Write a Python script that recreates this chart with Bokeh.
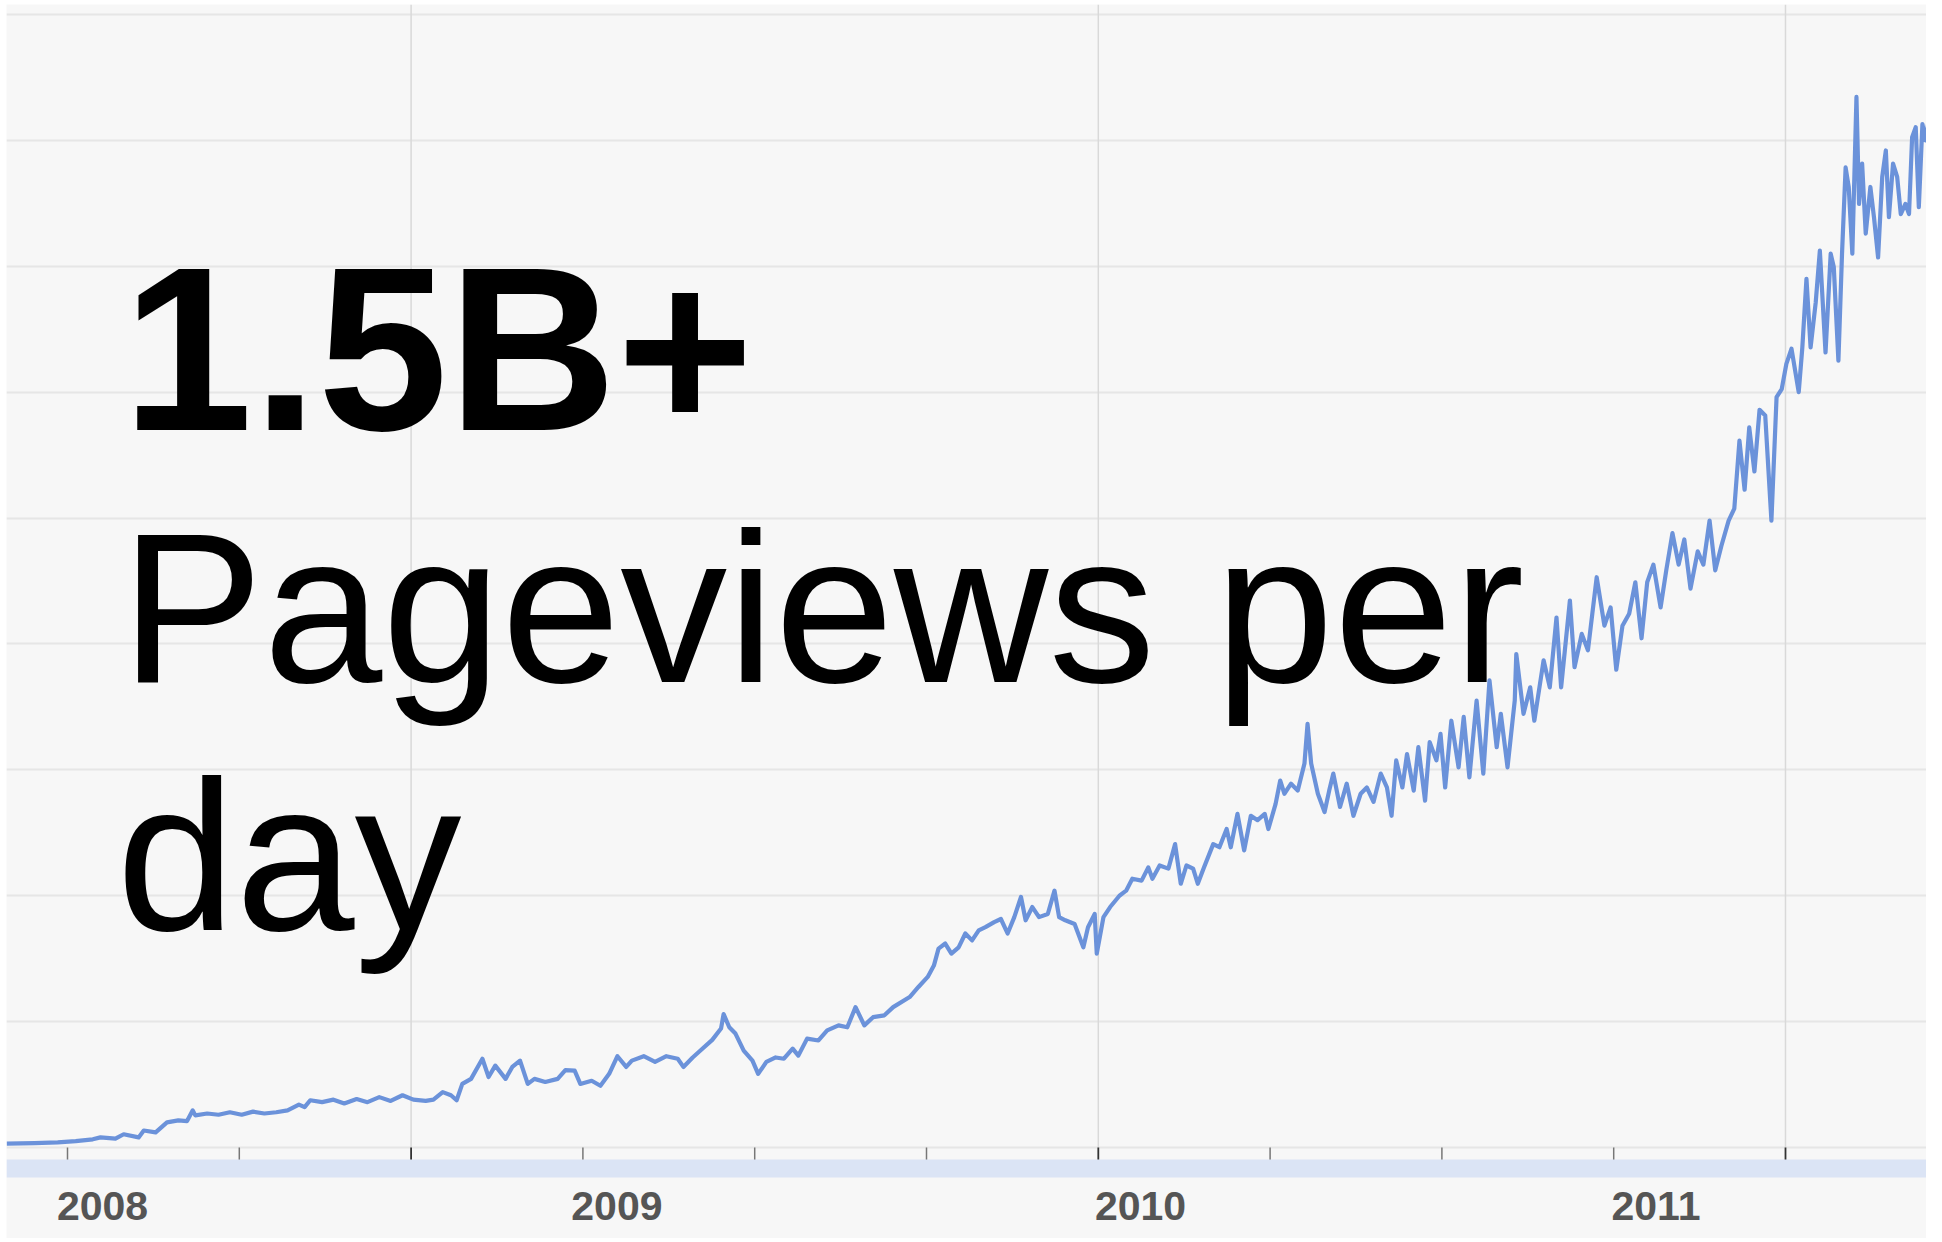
from bokeh.plotting import figure
from bokeh.models import FixedTicker, Grid, Range1d, ColumnDataSource
from bokeh.core.properties import value
from bokeh.embed import file_html
from bokeh.resources import INLINE

# ---- data (decimal year, pageviews in millions per day) ----
dates = [
    2007.882, 2007.936, 2007.981, 2008.016, 2008.049, 2008.064, 2008.093, 2008.109,
    2008.138, 2008.148, 2008.171, 2008.182, 2008.193, 2008.215, 2008.232, 2008.243,
    2008.248, 2008.271, 2008.293, 2008.315, 2008.338, 2008.360, 2008.382, 2008.405,
    2008.427, 2008.449, 2008.460, 2008.471, 2008.494, 2008.516, 2008.537, 2008.561,
    2008.582, 2008.605, 2008.627, 2008.650, 2008.671, 2008.695, 2008.710, 2008.728,
    2008.744, 2008.755, 2008.766, 2008.783, 2008.805, 2008.817, 2008.830, 2008.850,
    2008.863, 2008.878, 2008.893, 2008.906, 2008.927, 2008.951, 2008.966, 2008.984,
    2008.995, 2009.017, 2009.034, 2009.051, 2009.067, 2009.084, 2009.095, 2009.118,
    2009.140, 2009.162, 2009.184, 2009.195, 2009.213, 2009.228, 2009.251, 2009.268,
    2009.273, 2009.284, 2009.296, 2009.312, 2009.329, 2009.340, 2009.356, 2009.374,
    2009.390, 2009.407, 2009.418, 2009.435, 2009.457, 2009.474, 2009.496, 2009.513,
    2009.529, 2009.546, 2009.563, 2009.585, 2009.602, 2009.634, 2009.651, 2009.669,
    2009.681, 2009.690, 2009.703, 2009.715, 2009.729, 2009.742, 2009.755, 2009.768,
    2009.781, 2009.798, 2009.811, 2009.824, 2009.837, 2009.850, 2009.859, 2009.872,
    2009.885, 2009.902, 2009.915, 2009.924, 2009.936, 2009.954, 2009.971, 2009.980,
    2009.993, 2009.997, 2010.010, 2010.023, 2010.041, 2010.054, 2010.066, 2010.084,
    2010.097, 2010.105, 2010.119, 2010.136, 2010.149, 2010.160, 2010.171, 2010.184,
    2010.193, 2010.205, 2010.223, 2010.235, 2010.249, 2010.257, 2010.270, 2010.283,
    2010.296, 2010.309, 2010.323, 2010.330, 2010.344, 2010.353, 2010.361, 2010.374,
    2010.387, 2010.400, 2010.406, 2010.413, 2010.426, 2010.439, 2010.448, 2010.456,
    2010.469, 2010.482, 2010.495, 2010.509, 2010.521, 2010.534, 2010.548, 2010.560,
    2010.569, 2010.578, 2010.590, 2010.599, 2010.612, 2010.621, 2010.634, 2010.643,
    2010.656, 2010.664, 2010.673, 2010.685, 2010.699, 2010.709, 2010.720, 2010.734,
    2010.747, 2010.759, 2010.773, 2010.781, 2010.794, 2010.808, 2010.811, 2010.825,
    2010.838, 2010.846, 2010.864, 2010.876, 2010.889, 2010.898, 2010.915, 2010.924,
    2010.938, 2010.950, 2010.967, 2010.982, 2010.994, 2011.005, 2011.017, 2011.030,
    2011.042, 2011.054, 2011.065, 2011.077, 2011.091, 2011.102, 2011.114, 2011.126,
    2011.137, 2011.149, 2011.163, 2011.174, 2011.186, 2011.197, 2011.209, 2011.223,
    2011.234, 2011.244, 2011.254, 2011.263, 2011.273, 2011.283, 2011.294, 2011.306,
    2011.314, 2011.316, 2011.326, 2011.335, 2011.345, 2011.359, 2011.366, 2011.374,
    2011.382, 2011.392, 2011.400, 2011.411, 2011.421, 2011.427, 2011.436, 2011.443,
    2011.450, 2011.456, 2011.463, 2011.471, 2011.476, 2011.482, 2011.489, 2011.498,
    2011.505, 2011.513, 2011.521, 2011.528, 2011.534, 2011.542, 2011.550, 2011.557,
    2011.566, 2011.573, 2011.579, 2011.586, 2011.592, 2011.599, 2011.605, 2011.610,
]
pageviews_m = [
    6, 7, 8, 10, 13, 16, 14, 21,
    16, 27, 24, 32, 40, 43, 42, 59,
    51, 54, 52, 56, 52, 57, 54, 56,
    59, 68, 64, 75, 72, 76, 70, 77,
    72, 80, 74, 83, 76, 74, 76, 88,
    83, 75, 101, 109, 141, 112, 130, 109,
    128, 138, 101, 109, 104, 109, 123, 122,
    101, 106, 98, 117, 145, 128, 138, 145,
    136, 145, 141, 128, 143, 154, 171, 189,
    212, 191, 181, 154, 138, 117, 136, 143,
    141, 157, 146, 173, 170, 186, 194, 191,
    223, 194, 207, 210, 223, 239, 255, 271,
    289, 316, 324, 308, 318, 340, 329, 345,
    350, 358, 363, 340, 366, 398, 361, 382,
    366, 371, 408, 366, 361, 355, 318, 350,
    371, 308, 366, 382, 400, 408, 427, 424,
    445, 427, 448, 443, 482, 419, 448, 443,
    419, 445, 482, 477, 506, 477, 530, 472,
    527, 520, 530, 506, 546, 583, 562, 578,
    567, 610, 673, 610, 562, 533, 567, 594,
    541, 578, 527, 562, 572, 549, 594, 572,
    527, 615, 572, 625, 567, 636, 551, 644,
    615, 657, 572, 678, 604, 684, 588, 710,
    594, 742, 636, 689, 604, 710, 784, 689,
    731, 678, 774, 731, 842, 731, 869, 763,
    816, 790, 906, 829, 858, 759, 829, 848,
    898, 809, 898, 926, 858, 917, 976, 926,
    966, 888, 947, 926, 996, 917, 956, 996,
    1015, 1123, 1045, 1144, 1074, 1172, 1163, 996,
    1153, 1192, 1205, 1245, 1269, 1200, 1271, 1380,
    1271, 1343, 1425, 1263, 1420, 1399, 1250, 1420,
    1557, 1526, 1420, 1669, 1499, 1563, 1452, 1526,
    1478, 1414, 1542, 1584, 1478, 1563, 1542, 1483,
    1499, 1483, 1605, 1621, 1494, 1626, 1600, 1626,
]

tick_dates = [2008.0 + k / 3.0 for k in range(11)]          # every 4 months
major_tick_dates = [2008.0 + 2 / 3.0, 2010.0, 2011.0 + 1 / 3.0]
minor_tick_dates = [d for d in tick_dates if min(abs(d - m) for m in major_tick_dates) > 0.01]
y_grid_values = [0, 200, 400, 600, 800, 1000, 1200, 1400, 1600, 1800]
year_labels = ["2008", "2009", "2010", "2011"]
year_label_dates = [2008.068, 2009.066, 2010.082, 2011.082]

headline = "1.5B+"
sub_line_1 = "Pageviews per"
sub_line_2 = "day"

# ---- layout: frame 1920 x 1234 px, white strip left (6px) and top (4px) ----
FRAME_W, FRAME_H = 1920, 1234
PAD_L, PAD_T = 6, 4
X0, X1 = 2007.88164, 2011.60691
Y0, Y1 = -144.6, 1815.9
PX_Y = FRAME_H / (Y1 - Y0)          # px per million
PX_X = FRAME_W / (X1 - X0)          # px per year

def y_below(px):                      # value that lies px pixels below the baseline
    return -px / PX_Y

p = figure(
    width=FRAME_W + PAD_L, height=FRAME_H + PAD_T,
    x_range=Range1d(X0, X1), y_range=Range1d(Y0, Y1),
    x_axis_location=None, y_axis_location=None,
    toolbar_location=None, output_backend="svg",
    min_border_left=PAD_L, min_border_right=0,
    min_border_top=PAD_T, min_border_bottom=0,
    background_fill_color="#f7f7f7", border_fill_color="#ffffff",
    outline_line_color=None,
)
p.xgrid.visible = False
p.ygrid.visible = False

p.add_layout(Grid(dimension=1, ticker=FixedTicker(ticks=y_grid_values),
                  grid_line_color="#e6e6e6", grid_line_width=2))

# vertical grid lines (only above the baseline)
p.segment(x0=major_tick_dates, y0=[0] * len(major_tick_dates),
          x1=major_tick_dates, y1=[Y1] * len(major_tick_dates),
          line_color="#d9d9d9", line_width=1.5)

# tick marks below the baseline
p.segment(x0=minor_tick_dates, y0=[0] * len(minor_tick_dates),
          x1=minor_tick_dates, y1=[y_below(13)] * len(minor_tick_dates),
          line_color="#777777", line_width=1.5)
p.segment(x0=major_tick_dates, y0=[0] * len(major_tick_dates),
          x1=major_tick_dates, y1=[y_below(13)] * len(major_tick_dates),
          line_color="#333333", line_width=1.8)

# light-blue range band
p.quad(left=[X0], right=[X1], bottom=[y_below(30)], top=[y_below(12)],
       fill_color="#dbe4f5", line_color=None)

# Bokeh places an "alphabetic" baseline ~0.36 em low; compensate
BASE_FIX = 0.36

# year labels
lab_size = 41
p.text(x=year_label_dates, y=[y_below(73 - BASE_FIX * lab_size)] * len(year_labels),
       text=year_labels, text_align="center", text_baseline="alphabetic",
       text_font=value("Liberation Sans"), text_font_style="bold",
       text_font_size=f"{lab_size}px", text_color="#555555")

# the series
src = ColumnDataSource(dict(x=dates, y=pageviews_m))
p.line("x", "y", source=src, line_color="#6b92da", line_width=4.2, line_join="round")

# overlay text (anchor x in years, baseline height above chart baseline in px)
def overlay(txt, x_px_from_2008, base_px_above, size, style):
    p.text(x=[2008.0 + x_px_from_2008 / PX_X],
           y=[(base_px_above + BASE_FIX * size) / PX_Y], text=[txt],
           text_align="left", text_baseline="alphabetic",
           text_font=value("Liberation Sans"), text_font_style=style,
           text_font_size=f"{size}px", text_color="#000000")

overlay(headline, 55, 714, 234, "bold")
overlay(sub_line_1, 53, 463, 214, "normal")
overlay(sub_line_2, 49, 215, 214, "normal")

open("out.html", "w").write(file_html(p, INLINE))
